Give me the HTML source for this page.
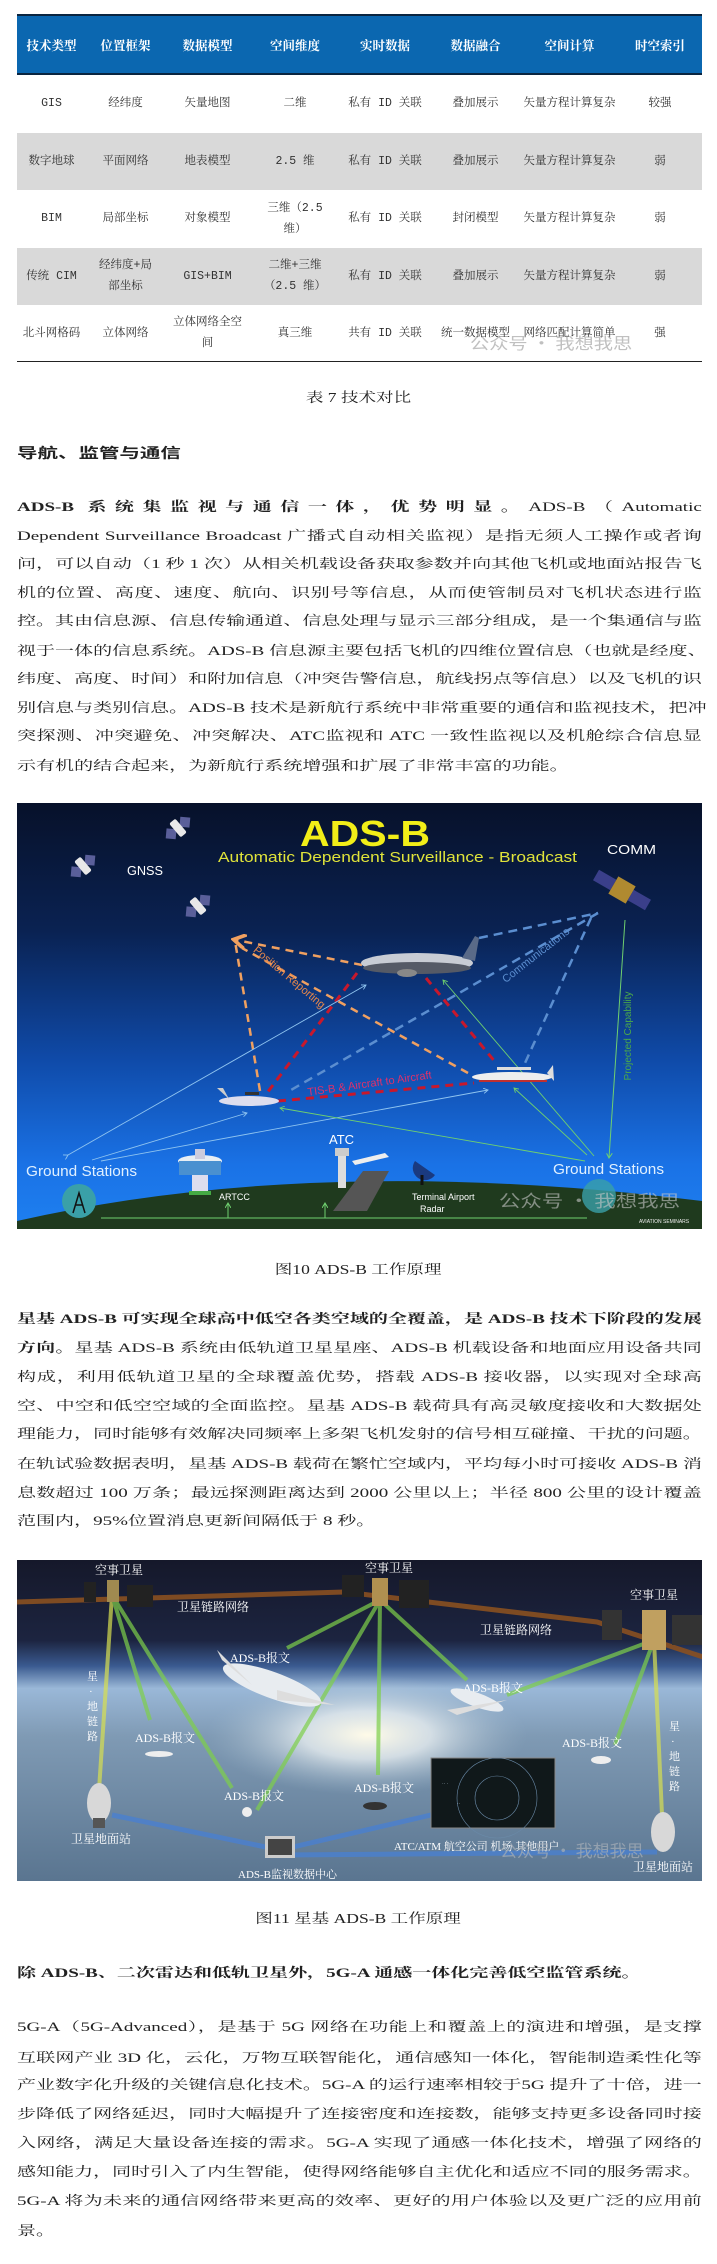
<!DOCTYPE html>
<html><head><meta charset="utf-8">
<style>
html,body{margin:0;padding:0;background:#fff;}
body{width:717px;height:2264px;position:relative;overflow:hidden;font-family:"Liberation Serif","Noto Serif CJK SC",serif;color:#222;}
.l{position:absolute;left:17px;width:468px;height:29px;line-height:29px;transform:scaleX(1.4633);transform-origin:0 50%;text-align:justify;text-align-last:justify;font-size:13px;white-space:nowrap;}
.l.n{text-align-last:left;}
.c{position:absolute;left:0;width:717px;text-align:center;font-size:13.5px;height:20px;line-height:20px;}
.c span{display:inline-block;transform:scaleX(1.3);}
b{font-weight:700;}
table{position:absolute;left:17px;top:14px;width:685px;border-collapse:collapse;table-layout:fixed;}
th{background:#0b67b0;color:#fff;height:57px;font-size:12.5px;font-weight:700;font-family:"Noto Serif CJK SC","Liberation Serif",serif;padding:0;border-top:2px solid #0a2540;border-bottom:2px solid #0a2540;}
td{height:57.5px;text-align:center;font-size:11.5px;color:#333;padding:0;line-height:21px;font-family:"Liberation Mono","Noto Serif CJK SC",serif;}
tr.g td{background:#d9d9d9;}
tr.last td{border-bottom:1.5px solid #222;height:56px;}
</style></head><body>

<table>
<colgroup><col style="width:69px"><col style="width:79px"><col style="width:85px"><col style="width:90px"><col style="width:90px"><col style="width:91px"><col style="width:97px"><col style="width:84px"></colgroup>
<tr><th>技术类型</th><th>位置框架</th><th>数据模型</th><th>空间维度</th><th>实时数据</th><th>数据融合</th><th>空间计算</th><th>时空索引</th></tr>
<tr><td>GIS</td><td>经纬度</td><td>矢量地图</td><td>二维</td><td>私有 ID 关联</td><td>叠加展示</td><td>矢量方程计算复杂</td><td>较强</td></tr>
<tr class="g"><td>数字地球</td><td>平面网络</td><td>地表模型</td><td>2.5 维</td><td>私有 ID 关联</td><td>叠加展示</td><td>矢量方程计算复杂</td><td>弱</td></tr>
<tr><td>BIM</td><td>局部坐标</td><td>对象模型</td><td>三维（2.5<br>维）</td><td>私有 ID 关联</td><td>封闭模型</td><td>矢量方程计算复杂</td><td>弱</td></tr>
<tr class="g"><td>传统 CIM</td><td>经纬度+局<br>部坐标</td><td>GIS+BIM</td><td>二维+三维<br>（2.5 维）</td><td>私有 ID 关联</td><td>叠加展示</td><td>矢量方程计算复杂</td><td>弱</td></tr>
<tr class="last"><td>北斗网格码</td><td>立体网络</td><td>立体网络全空<br>间</td><td>真三维</td><td>共有 ID 关联</td><td>统一数据模型</td><td>网络匹配计算简单</td><td>强</td></tr>
</table>
<div style="position:absolute;left:470px;top:330px;font-family:'Noto Sans CJK SC',sans-serif;font-size:16px;color:rgba(150,150,150,0.6);transform:scaleX(1.2);transform-origin:0 0;">公众号 · 我想我思</div>

<div class="c" style="top:388px;"><span>表 7 技术对比</span></div>

<div class="l n" style="top:439px;font-family:'Liberation Sans','Noto Sans CJK SC',sans-serif;font-weight:700;font-size:14px;">导航、监管与通信</div>

<div class="l" style="top:491.5px;"><b>ADS-B 系统集监视与通信一体，优势明显。</b>ADS-B（Automatic</div>
<div class="l" style="top:520.5px;">Dependent Surveillance Broadcast 广播式自动相关监视）是指无须人工操作或者询</div>
<div class="l" style="top:548.5px;">问，可以自动（1 秒 1 次）从相关机载设备获取参数并向其他飞机或地面站报告飞</div>
<div class="l" style="top:577.5px;">机的位置、高度、速度、航向、识别号等信息，从而使管制员对飞机状态进行监</div>
<div class="l" style="top:605.5px;">控。其由信息源、信息传输通道、信息处理与显示三部分组成，是一个集通信与监</div>
<div class="l" style="top:635.5px;">视于一体的信息系统。ADS-B 信息源主要包括飞机的四维位置信息（也就是经度、</div>
<div class="l" style="top:663.5px;">纬度、高度、时间）和附加信息（冲突告警信息，航线拐点等信息）以及飞机的识</div>
<div class="l" style="top:692.5px;">别信息与类别信息。ADS-B 技术是新航行系统中非常重要的通信和监视技术，把冲</div>
<div class="l" style="top:720.5px;">突探测、冲突避免、冲突解决、ATC监视和 ATC 一致性监视以及机舱综合信息显</div>
<div class="l n" style="top:750.5px;">示有机的结合起来，为新航行系统增强和扩展了非常丰富的功能。</div>

<svg style="position:absolute;left:17px;top:803px;" width="685" height="426" viewBox="0 0 685 426" font-family="Liberation Sans, sans-serif">
<defs>
<linearGradient id="sky" x1="0" y1="0" x2="0" y2="1">
<stop offset="0" stop-color="#07112a"/><stop offset="0.3" stop-color="#0a2252"/><stop offset="0.6" stop-color="#0f4aa8"/><stop offset="0.85" stop-color="#1a72e6"/><stop offset="1" stop-color="#1e80f0"/>
</linearGradient>
<marker id="ab" markerWidth="6" markerHeight="6" refX="5" refY="3" orient="auto"><path d="M0,0 L5,3 L0,6" fill="none" stroke="#8fc4f0" stroke-width="1"/></marker>
<marker id="ag" markerWidth="6" markerHeight="6" refX="5" refY="3" orient="auto"><path d="M0,0 L5,3 L0,6" fill="none" stroke="#6fd06f" stroke-width="1"/></marker>
<marker id="ao" markerWidth="6" markerHeight="6" refX="4" refY="3" orient="auto"><path d="M0,0 L5,3 L0,6" fill="none" stroke="#f0a060" stroke-width="1.5"/></marker>
<g id="sat"><rect x="-14" y="-5" width="10" height="10" fill="#5a5f9a" transform="rotate(45 -9 0)"/><rect x="4" y="-5" width="10" height="10" fill="#5a5f9a" transform="rotate(45 9 0)"/><rect x="-4" y="-9" width="8" height="18" rx="2" fill="#e8e8e8"/></g>
</defs>
<rect width="685" height="426" fill="url(#sky)"/>
<use href="#sat" transform="translate(161,25) rotate(-40)"/>
<use href="#sat" transform="translate(66,63) rotate(-40)"/>
<use href="#sat" transform="translate(181,103) rotate(-40)"/>
<g transform="translate(605,87) rotate(30)"><rect x="-30" y="-6" width="20" height="12" fill="#3a3f8a"/><rect x="10" y="-6" width="20" height="12" fill="#3a3f8a"/><rect x="-10" y="-10" width="20" height="20" fill="#b08a30"/></g>
<text x="348" y="43" font-size="36" font-weight="700" fill="#f2ee18" text-anchor="middle" textLength="130" lengthAdjust="spacingAndGlyphs">ADS-B</text>
<text x="201" y="59" font-size="14.5" fill="#e0e43a" textLength="359" lengthAdjust="spacingAndGlyphs">Automatic Dependent Surveillance - Broadcast</text>
<text x="590" y="51" font-size="13" fill="#fff" textLength="49" lengthAdjust="spacingAndGlyphs">COMM</text>
<text x="110" y="72" font-size="13" fill="#fff" textLength="36" lengthAdjust="spacingAndGlyphs">GNSS</text>
<!-- orange -->
<g stroke="#f0a060" stroke-width="2.5" stroke-dasharray="8,6" fill="none">
<line x1="345" y1="162" x2="219" y2="137" marker-end="url(#ao)"/>
<line x1="243" y1="288" x2="218" y2="138"/>
<line x1="451" y1="270" x2="225" y2="145"/>
</g>
<!-- red -->
<g stroke="#c8182c" stroke-width="3" stroke-dasharray="8,6" fill="none">
<line x1="340" y1="170" x2="250" y2="290"/>
<line x1="409" y1="175" x2="479" y2="260"/>
<line x1="261" y1="298" x2="457" y2="280"/>
</g>
<!-- blue dashed -->
<g stroke="#5b8ed0" stroke-width="2.5" stroke-dasharray="9,6" fill="none">
<line x1="462" y1="135" x2="581" y2="110"/>
<line x1="581" y1="110" x2="274" y2="287"/>
<line x1="574" y1="115" x2="508" y2="260"/>
</g>
<line x1="608" y1="117" x2="592" y2="355" stroke="#6fd06f" stroke-width="1" marker-end="url(#ag)"/>
<!-- thin arrows -->
<g stroke="#8fc4f0" stroke-width="0.9" fill="none">
<line x1="51" y1="352" x2="349" y2="182" marker-end="url(#ab)" marker-start="url(#ab)"/>
<line x1="75" y1="357" x2="230" y2="310" marker-end="url(#ab)"/>
<line x1="84" y1="358" x2="471" y2="287" marker-end="url(#ab)"/>
</g>
<g stroke="#6fd06f" stroke-width="0.9" fill="none">
<line x1="568" y1="358" x2="263" y2="305" marker-end="url(#ag)"/>
<line x1="570" y1="352" x2="497" y2="285" marker-end="url(#ag)"/>
<line x1="577" y1="353" x2="426" y2="177" marker-end="url(#ag)"/>
</g>
<text x="270" y="177" font-size="11" fill="#e8884a" text-anchor="middle" transform="rotate(40 270 177)">Position Reporting</text>
<text x="521" y="155" font-size="11" fill="#5b8ed0" text-anchor="middle" transform="rotate(-38 521 155)">Communications</text>
<text x="353" y="284" font-size="11" fill="#e0306a" text-anchor="middle" transform="rotate(-8 353 284)">TIS-B  &amp; Aircraft to Aircraft</text>
<text x="614" y="233" font-size="10" fill="#4aa84a" text-anchor="middle" transform="rotate(-90 614 233)">Projected Capability</text>
<!-- planes -->
<g><ellipse cx="400" cy="160" rx="56" ry="10" fill="#c8ccd4"/><ellipse cx="400" cy="165" rx="54" ry="6" fill="#555a66"/><path d="M445,155 L458,133 L462,135 L458,158 Z" fill="#5a6a88"/><ellipse cx="390" cy="170" rx="10" ry="4" fill="#888"/></g>
<g><ellipse cx="232" cy="298" rx="30" ry="5" fill="#dde"/><path d="M200,285 L206,285 L212,296 Z" fill="#ccc"/><rect x="228" y="289" width="14" height="3" fill="#333"/></g>
<g><ellipse cx="495" cy="274" rx="40" ry="5" fill="#eee"/><line x1="462" y1="278" x2="530" y2="278" stroke="#c03030" stroke-width="2"/><path d="M530,270 L536,262 L537,278 Z" fill="#ddd"/><rect x="480" y="264" width="34" height="3" fill="#ddd"/></g>
<!-- ground -->
<path d="M0,426 L0,418 Q300,350 685,398 L685,426 Z" fill="#1f3a1e"/>
<line x1="84" y1="415" x2="570" y2="415" stroke="#6fd06f" stroke-width="1"/>
<line x1="211" y1="415" x2="211" y2="400" stroke="#6fd06f" marker-end="url(#ag)"/>
<line x1="308" y1="415" x2="308" y2="400" stroke="#6fd06f" marker-end="url(#ag)"/>
<text x="9" y="373" font-size="15" fill="#e0f0ff" textLength="111" lengthAdjust="spacingAndGlyphs">Ground Stations</text>
<text x="536" y="371" font-size="15" fill="#e0f0ff" textLength="111" lengthAdjust="spacingAndGlyphs">Ground Stations</text>
<text x="312" y="341" font-size="13" fill="#fff">ATC</text>
<circle cx="62" cy="398" r="17" fill="#3aa0a8"/><path d="M56,410 L62,390 L68,410 M58,402 L66,402" stroke="#111" stroke-width="1.5" fill="none"/>
<circle cx="582" cy="393" r="17" fill="#3aa0a8" opacity="0.8"/>
<g><ellipse cx="183" cy="358" rx="22" ry="6" fill="#e8eef4"/><rect x="162" y="358" width="42" height="14" fill="#4a90d0"/><rect x="175" y="372" width="16" height="18" fill="#dde"/><rect x="172" y="388" width="22" height="4" fill="#4a4"/><rect x="178" y="346" width="10" height="10" fill="#ccd"/></g>
<text x="202" y="397" font-size="9" fill="#fff">ARTCC</text>
<g><rect x="318" y="345" width="14" height="8" fill="#ccc"/><rect x="321" y="353" width="8" height="32" fill="#ddd"/><path d="M316,408 L346,368 L372,368 L350,408 Z" fill="#555"/><path d="M335,358 L368,350 L372,354 L338,362 Z" fill="#eee"/></g>
<g><path d="M398,358 a12,12 0 1,0 20,14 Z" fill="#1a3a80"/><line x1="405" y1="372" x2="405" y2="382" stroke="#111" stroke-width="3"/></g>
<text x="395" y="397" font-size="9" fill="#fff">Terminal Airport</text>
<text x="403" y="409" font-size="9" fill="#fff">Radar</text>
<text x="622" y="420" font-size="5" fill="#eee">AVIATION SEMINARS</text>
<text x="482" y="404" font-size="17" fill="rgba(200,200,200,0.6)" font-family="Noto Sans CJK SC, sans-serif" textLength="181" lengthAdjust="spacingAndGlyphs">公众号 · 我想我思</text>
</svg>

<div class="c" style="top:1260px;"><span>图10 ADS-B 工作原理</span></div>

<div class="l" style="top:1303.5px;"><b>星基 ADS-B 可实现全球高中低空各类空域的全覆盖，是 ADS-B 技术下阶段的发展</b></div>
<div class="l" style="top:1332.5px;"><b>方向。</b>星基 ADS-B 系统由低轨道卫星星座、ADS-B 机载设备和地面应用设备共同</div>
<div class="l" style="top:1361.5px;">构成，利用低轨道卫星的全球覆盖优势，搭载 ADS-B 接收器，以实现对全球高</div>
<div class="l" style="top:1390.5px;">空、中空和低空空域的全面监控。星基 ADS-B 载荷具有高灵敏度接收和大数据处</div>
<div class="l" style="top:1418.5px;">理能力，同时能够有效解决同频率上多架飞机发射的信号相互碰撞、干扰的问题。</div>
<div class="l" style="top:1448.5px;">在轨试验数据表明，星基 ADS-B 载荷在繁忙空域内，平均每小时可接收 ADS-B 消</div>
<div class="l" style="top:1477.5px;">息数超过 100 万条；最远探测距离达到 2000 公里以上；半径 800 公里的设计覆盖</div>
<div class="l n" style="top:1505.5px;">范围内，95%位置消息更新间隔低于 8 秒。</div>

<svg style="position:absolute;left:17px;top:1560px;" width="685" height="321" viewBox="0 0 685 321" font-family="Liberation Serif, Noto Serif CJK SC, serif">
<defs>
<linearGradient id="sp" x1="0" y1="0" x2="0" y2="1">
<stop offset="0" stop-color="#15182a"/><stop offset="0.25" stop-color="#1c2440"/><stop offset="0.33" stop-color="#3a5a90"/><stop offset="0.4" stop-color="#9ab8d8"/><stop offset="0.55" stop-color="#7f9ab4"/><stop offset="1" stop-color="#5a7590"/>
</linearGradient>
<radialGradient id="sun" cx="0.5" cy="0.5" r="0.5"><stop offset="0" stop-color="#fffbe8"/><stop offset="0.4" stop-color="#e8eef0" stop-opacity="0.8"/><stop offset="1" stop-color="#a0b8cc" stop-opacity="0"/></radialGradient>
</defs>
<rect width="685" height="321" fill="url(#sp)"/>
<ellipse cx="350" cy="175" rx="160" ry="60" fill="url(#sun)"/>
<path d="M0,42 L327,32 L580,62 L686,97" stroke="#8a5020" stroke-width="5" fill="none" opacity="0.9"/>
<g stroke="#7ed04a" stroke-width="4" opacity="0.7" fill="none">
<line x1="95" y1="35" x2="82" y2="230" stroke="#d8e050"/>
<line x1="95" y1="35" x2="133" y2="160"/>
<line x1="95" y1="35" x2="215" y2="228"/>
<line x1="363" y1="40" x2="270" y2="88"/>
<line x1="363" y1="40" x2="240" y2="250"/>
<line x1="363" y1="40" x2="361" y2="215"/>
<line x1="363" y1="40" x2="450" y2="120"/>
<line x1="637" y1="80" x2="490" y2="135"/>
<line x1="637" y1="80" x2="598" y2="185"/>
<line x1="637" y1="80" x2="645" y2="255" stroke="#d8e050"/>
</g>
<g stroke="#4a80d0" stroke-width="5" opacity="0.8" fill="none">
<path d="M95,255 L263,290 L414,255"/><path d="M263,295 L640,292"/>
</g>
<g fill="#222"><rect x="67" y="22" width="12" height="20"/><rect x="110" y="25" width="26" height="22"/><rect x="325" y="15" width="22" height="22"/><rect x="382" y="20" width="30" height="28"/><rect x="585" y="50" width="20" height="30" fill="#333"/><rect x="655" y="55" width="30" height="30" fill="#333"/></g>
<rect x="90" y="20" width="12" height="22" fill="#a08a50"/><rect x="355" y="18" width="16" height="28" fill="#b09050"/><rect x="625" y="50" width="24" height="40" fill="#c0a060"/>
<g fill="#fff" font-size="12"><text x="78" y="14">空事卫星</text><text x="348" y="12">空事卫星</text><text x="613" y="39">空事卫星</text>
<text x="160" y="51">卫星链路网络</text><text x="463" y="74">卫星链路网络</text>
<text x="213" y="102">ADS-B报文</text><text x="446" y="132">ADS-B报文</text><text x="118" y="182">ADS-B报文</text><text x="545" y="187">ADS-B报文</text><text x="207" y="240">ADS-B报文</text><text x="337" y="232">ADS-B报文</text>
<text x="54" y="283">卫星地面站</text><text x="616" y="311">卫星地面站</text><text x="221" y="318" font-size="11">ADS-B监视数据中心</text><text x="377" y="290" font-size="11">ATC/ATM 航空公司 机场 其他用户</text>
<text x="70" y="120" font-size="11">星</text><text x="72" y="135" font-size="11">·</text><text x="70" y="150" font-size="11">地</text><text x="70" y="165" font-size="11">链</text><text x="70" y="180" font-size="11">路</text>
<text x="652" y="170" font-size="11">星</text><text x="654" y="185" font-size="11">·</text><text x="652" y="200" font-size="11">地</text><text x="652" y="215" font-size="11">链</text><text x="652" y="230" font-size="11">路</text></g>
<g><ellipse cx="255" cy="125" rx="52" ry="13" fill="#e8ecf0" transform="rotate(20 255 125)"/><path d="M200,90 L235,125 L205,100 Z" fill="#ddd"/><path d="M260,130 L318,145 L260,140 Z" fill="#ddd"/></g>
<g><ellipse cx="460" cy="140" rx="28" ry="7" fill="#e8ecf0" transform="rotate(20 460 140)"/><path d="M430,150 L490,140 L440,155 Z" fill="#ddd"/></g>
<g fill="#eee"><ellipse cx="142" cy="194" rx="14" ry="3"/><ellipse cx="584" cy="200" rx="10" ry="4"/><ellipse cx="230" cy="252" rx="5" ry="5"/><ellipse cx="358" cy="246" rx="12" ry="4" fill="#333"/></g>
<ellipse cx="82" cy="243" rx="12" ry="20" fill="#d8d8d8"/><rect x="76" y="258" width="12" height="10" fill="#555"/>
<ellipse cx="646" cy="272" rx="12" ry="20" fill="#d8d8d8"/>
<rect x="248" y="276" width="30" height="22" fill="#ccc"/><rect x="251" y="279" width="24" height="16" fill="#444"/>
<rect x="414" y="198" width="124" height="70" fill="#10181a" stroke="#888"/>
<g stroke="#6a8aa8" fill="none" stroke-width="0.6"><circle cx="480" cy="238" r="40"/><circle cx="480" cy="238" r="22"/></g>
<g fill="#bcd" font-size="5"><text x="425" y="225">·· ·</text><text x="440" y="245">··</text></g>
<text x="483" y="297" font-size="17" fill="rgba(160,170,180,0.8)" font-family="Noto Sans CJK SC, sans-serif">公众号 · 我想我思</text>
</svg>

<div class="c" style="top:1909px;"><span>图11 星基 ADS-B 工作原理</span></div>

<div class="l n" style="top:1957.5px;font-weight:700;">除 ADS-B、二次雷达和低轨卫星外，5G-A 通感一体化完善低空监管系统。</div>

<div class="l" style="top:2011.5px;">5G-A（5G-Advanced），是基于 5G 网络在功能上和覆盖上的演进和增强，是支撑</div>
<div class="l" style="top:2042.5px;">互联网产业 3D 化，云化，万物互联智能化，通信感知一体化，智能制造柔性化等</div>
<div class="l" style="top:2069.5px;">产业数字化升级的关键信息化技术。5G-A 的运行速率相较于5G 提升了十倍，进一</div>
<div class="l" style="top:2098.5px;">步降低了网络延迟，同时大幅提升了连接密度和连接数，能够支持更多设备同时接</div>
<div class="l" style="top:2127.5px;">入网络，满足大量设备连接的需求。5G-A 实现了通感一体化技术，增强了网络的</div>
<div class="l" style="top:2156.5px;">感知能力，同时引入了内生智能，使得网络能够自主优化和适应不同的服务需求。</div>
<div class="l" style="top:2185.5px;">5G-A 将为未来的通信网络带来更高的效率、更好的用户体验以及更广泛的应用前</div>
<div class="l n" style="top:2215.5px;">景。</div>

</body></html>
